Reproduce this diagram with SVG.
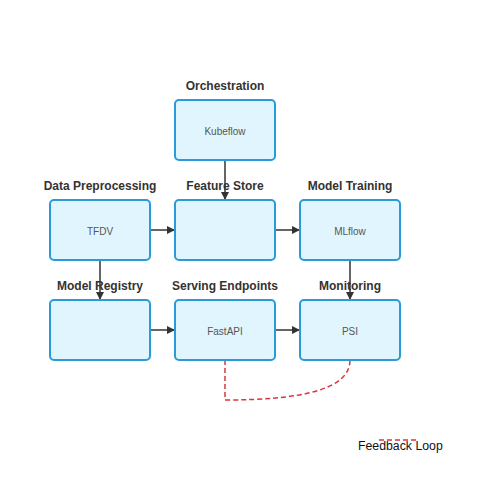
<svg xmlns="http://www.w3.org/2000/svg" width="500" height="500" viewBox="0 0 500 500">
<defs>
<marker id="ah" markerWidth="8" markerHeight="8" refX="8" refY="4" orient="auto" markerUnits="userSpaceOnUse">
<path d="M0,0 L8,4 L0,8 z" fill="#333"/>
</marker>
<style>
.box{fill:#e1f5fe;stroke:#2a9ad8;stroke-width:2}
.title{font-family:"Liberation Sans",Arial,sans-serif;font-size:12px;font-weight:bold;fill:#333;text-anchor:middle}
.sub{font-family:"Liberation Sans",Arial,sans-serif;font-size:10px;fill:#555;text-anchor:middle}
.edge{stroke:#333;stroke-width:1.5;fill:none}
.fb{stroke:#d9363e;stroke-width:1.5;fill:none;stroke-dasharray:5,3}
</style>
</defs>
<rect width="500" height="500" fill="#fff"/>
<g id="connectors">
<line class="edge" x1="225" y1="160" x2="225" y2="200" marker-end="url(#ah)"/>
<line class="edge" x1="150" y1="230" x2="175" y2="230" marker-end="url(#ah)"/>
<line class="edge" x1="275" y1="230" x2="300" y2="230" marker-end="url(#ah)"/>
<line class="edge" x1="350" y1="260" x2="350" y2="300" marker-end="url(#ah)"/>
<line class="edge" x1="100" y1="260" x2="100" y2="300" marker-end="url(#ah)"/>
<line class="edge" x1="150" y1="330" x2="175" y2="330" marker-end="url(#ah)"/>
<line class="edge" x1="275" y1="330" x2="300" y2="330" marker-end="url(#ah)"/>
<path class="fb" d="M225,360 L225,400 C300,400 350,390 350,360"/>
</g>
<g id="orchestration">
<rect class="box" x="175" y="100" width="100" height="60" rx="4"/>
<text class="title" x="225" y="90">Orchestration</text>
<text class="sub" x="225" y="135">Kubeflow</text>
</g>
<g id="data-preprocessing">
<rect class="box" x="50" y="200" width="100" height="60" rx="4"/>
<text class="title" x="100" y="190">Data Preprocessing</text>
<text class="sub" x="100" y="235">TFDV</text>
</g>
<g id="feature-store">
<rect class="box" x="175" y="200" width="100" height="60" rx="4"/>
<text class="title" x="225" y="190">Feature Store</text>
</g>
<g id="model-training">
<rect class="box" x="300" y="200" width="100" height="60" rx="4"/>
<text class="title" x="350" y="190">Model Training</text>
<text class="sub" x="350" y="235">MLflow</text>
</g>
<g id="model-registry">
<rect class="box" x="50" y="300" width="100" height="60" rx="4"/>
<text class="title" x="100" y="290">Model Registry</text>
</g>
<g id="serving-endpoints">
<rect class="box" x="175" y="300" width="100" height="60" rx="4"/>
<text class="title" x="225" y="290">Serving Endpoints</text>
<text class="sub" x="225" y="335">FastAPI</text>
</g>
<g id="monitoring">
<rect class="box" x="300" y="300" width="100" height="60" rx="4"/>
<text class="title" x="350" y="290">Monitoring</text>
<text class="sub" x="350" y="335">PSI</text>
</g>
<g id="legend">
<line class="fb" x1="379" y1="440" x2="417" y2="440"/>
<text x="358" y="450" font-family="Liberation Sans, Arial, sans-serif" font-size="12.3" fill="#111">Feedback Loop</text>
</g>
</svg>
